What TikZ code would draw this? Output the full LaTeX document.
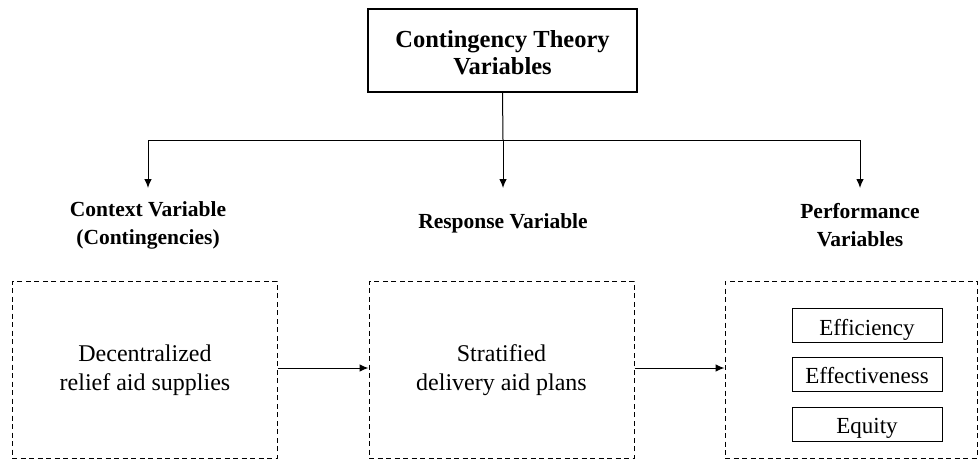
\documentclass[tikz,border=0pt]{standalone}
\usepackage{fontspec}
\setmainfont{Liberation Serif}
\usetikzlibrary{arrows.meta}
\begin{document}
\begin{tikzpicture}[x=1pt,y=-1pt,
  solidbox/.style={draw, line width=1.1pt, inner sep=0pt},
  dashbox/.style={draw, line width=1pt, dash pattern=on 5pt off 3.5pt, inner sep=0pt},
  head/.style={font=\fontsize{21.5}{28}\selectfont\bfseries, align=center},
  body/.style={font=\fontsize{24}{29}\selectfont, align=center},
  itembox/.style={solidbox, line width=1pt, minimum width=150pt, minimum height=34pt},
  itemtext/.style={font=\fontsize{23}{26}\selectfont, anchor=base, inner sep=0pt},
  conn/.style={line width=1pt, -{Latex[length=9pt,width=7.5pt]}},
  plain/.style={line width=1pt}]
\useasboundingbox (0,0) rectangle (980,460);
% top box
\node[solidbox, minimum width=269pt, minimum height=83pt] (top) at (502.5,50.5) {};
\node[font=\fontsize{24.5}{27}\selectfont\bfseries, align=center] (toptext) at (502.5,53) {Contingency Theory\\Variables};
% headings
\node[head] (ctx) at (148,225.5) {Context Variable\\(Contingencies)};
\node[head] (resp) at (503,223) {Response Variable};
\node[head] (perf) at (860,225.5) {Performance\\Variables};
\coordinate (jl) at (148,140);
\coordinate (jm) at (503,140);
\coordinate (jr) at (860,140);
\coordinate (tl) at (148,188);
\coordinate (tm) at (503,188);
\coordinate (tr) at (860,188);
\draw[plain] (top.south) -- (jm);
\draw[plain] (jl) -- (jr);
\draw[conn] (jl) -- (tl);
\draw[conn] (jm) -- (tm);
\draw[conn] (jr) -- (tr);
% dashed boxes
\node[dashbox, minimum width=265pt, minimum height=177pt] (b1) at (144.5,369.5) {};
\node[dashbox, minimum width=265pt, minimum height=177pt] (b2) at (501.5,369.5) {};
\node[dashbox, minimum width=252pt, minimum height=177pt] (b3) at (851,369.5) {};
\node[body] (t1) at (145,370.5) {Decentralized\\relief aid supplies};
\node[body] (t2) at (501.5,370.5) {Stratified\\delivery aid plans};
\draw[conn] (b1.east |- 0,368) -- (b2.west |- 0,368);
\draw[conn] (b2.east |- 0,368) -- (b3.west |- 0,368);
% inner boxes
\node[itembox] (e1) at (867,325) {};
\node[itembox] (e2) at (867,374.5) {};
\node[itembox] (e3) at (867,424) {};
\node[itemtext] (e1t) at ([yshift=-10pt]e1.center) {Efficiency};
\node[itemtext] (e2t) at ([yshift=-9pt]e2.center) {Effectiveness};
\node[itemtext] (e3t) at ([yshift=-9pt]e3.center) {Equity};
\end{tikzpicture}
\end{document}
